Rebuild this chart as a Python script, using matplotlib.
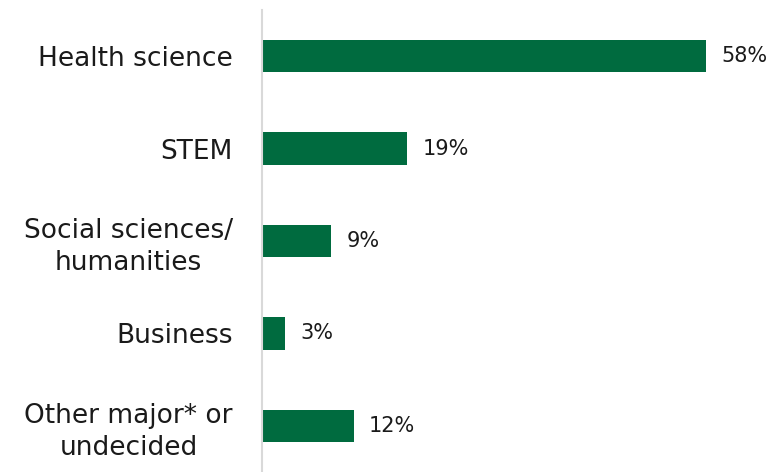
import matplotlib.pyplot as plt

# Share of respondents by intended major
categories = ["Health science", "STEM", "Social sciences/\nhumanities",
              "Business", "Other major* or\nundecided"]
values = [58, 19, 9, 3, 12]
value_labels = [f"{v}%" for v in values]

bar_color = "#006B3F"

plt.rcParams['font.family'] = ['DejaVu Sans']

fig = plt.figure(figsize=(7.72, 4.72), dpi=100)
ax = fig.add_axes([262 / 772, 0, 510 / 772, 462 / 472])

y = list(range(len(categories)))
ax.barh(y, values, height=0.35, color=bar_color)

for i, (v, txt) in enumerate(zip(values, value_labels)):
    ax.annotate(txt, (v, i), xytext=(11, 0), textcoords="offset points",
                va="center", ha="left", fontsize=15, color="#1a1a1a")

ax.set_yticks(y)
ax.set_yticklabels(categories, fontsize=19, color="#1a1a1a",
                   linespacing=1.3, ha="right")
for lbl in ax.get_yticklabels():
    lbl.set_multialignment("center")
ax.tick_params(axis="y", length=0, pad=21)
ax.set_xticks([])
ax.set_ylim(len(categories) - 0.5, -0.5)
ax.set_xlim(0, 66.6)

for side in ("top", "right", "bottom"):
    ax.spines[side].set_visible(False)
ax.spines["left"].set_color("#d9d9d9")
ax.spines["left"].set_linewidth(1.5)

fig.savefig("out.png", dpi=100)
